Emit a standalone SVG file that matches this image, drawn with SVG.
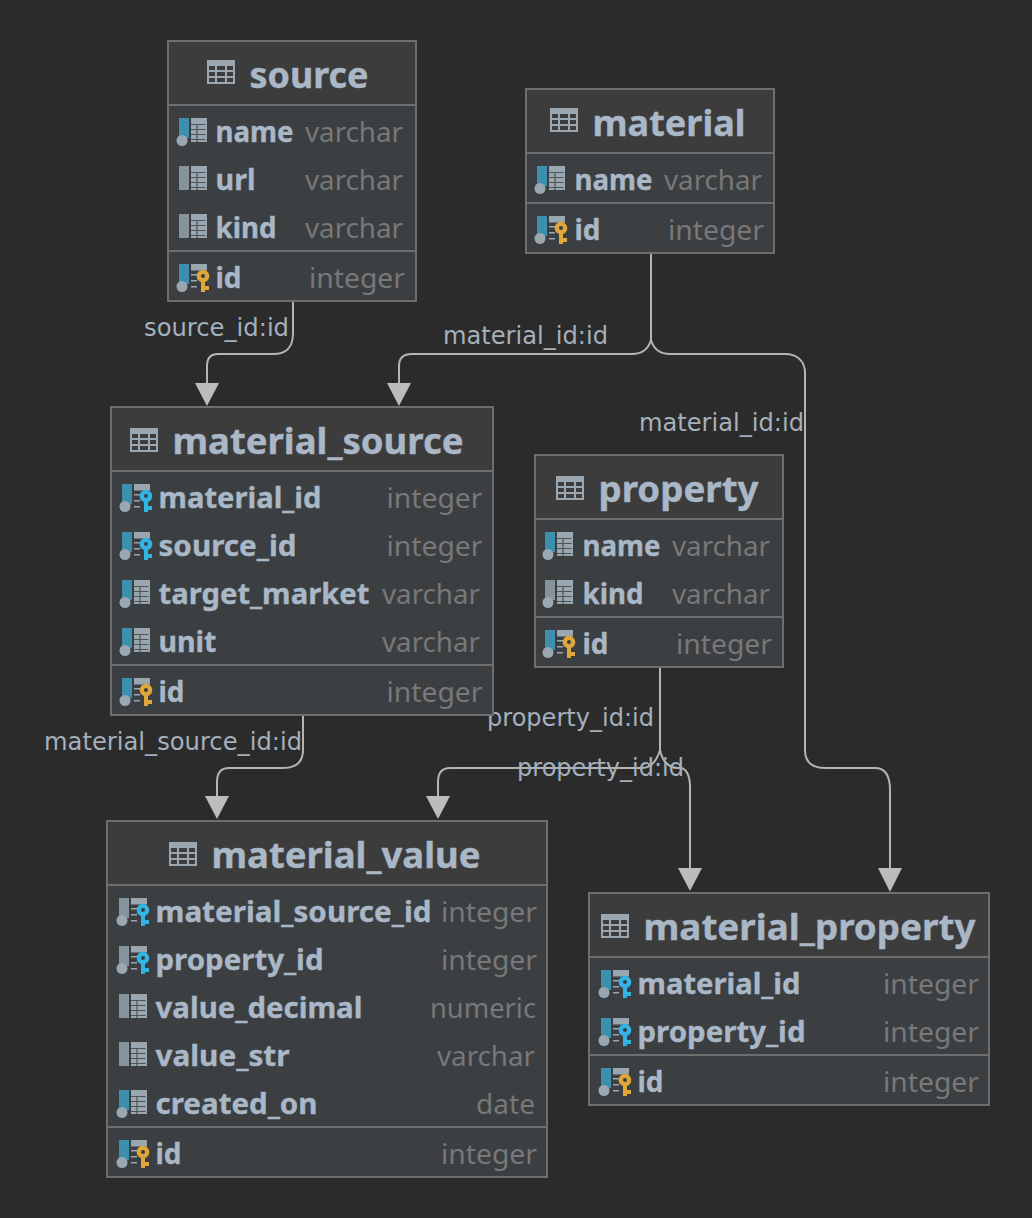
<svg xmlns="http://www.w3.org/2000/svg" width="1032" height="1218" viewBox="0 0 1032 1218">
<style>
.box{fill:#3b3f42;stroke:#6e6e6e;stroke-width:2}
.head{fill:#3c3c3c}
.div{stroke:#6e6e6e;stroke-width:2}
.t{font-family:"Noto Sans","DejaVu Sans",sans-serif;font-weight:700;font-size:36px;fill:#a9b7c6;stroke:#a9b7c6;stroke-width:.4;transform:translate(0,1px)}
.c{font-family:"Noto Sans","DejaVu Sans",sans-serif;font-weight:700;font-size:28px;fill:#a9b7c6;stroke:#a9b7c6;stroke-width:.35;transform:translate(0,.5px)}
.y{font-family:"Noto Sans","DejaVu Sans",sans-serif;font-size:28px;fill:#787878}
.l{font-family:"DejaVu Sans",sans-serif;font-size:24px;fill:#a4b0bc}
.e{fill:none;stroke:#b4b4b4;stroke-width:2}
.a{fill:#bcbcbc}
</style>
<defs>
<g id="ht"><rect width="28" height="24" fill="#9aa7b0"/><path fill="#3c3c3c" d="M2 6h6v4H2zM10 6h8v4h-8zM20 6h6v4h-6zM2 12h6v4H2zM10 12h8v4h-8zM20 12h6v4h-6zM2 18h6v4H2zM10 18h8v4h-8zM20 18h6v4h-6z"/></g>
<g id="tb"><rect x="13" width="16" height="24" fill="#9aa7b0"/><path stroke="#4d5458" stroke-width="1.2" d="M13 6.5H27.5M19 6.5V24M13 11.5H27.5M13 16.5H27.5M13 21.5H27.5" fill="none"/></g>
<g id="tk"><path fill="#9aa7b0" d="M13 0h16v6.5H13zM13 10h6v1.6h-6zM13 16h6v1.6h-6zM13 22h6v1.6h-6z"/></g>
<rect id="bb" x="1" width="10" height="20" fill="#3d8fae"/>
<rect id="bg" x="1" width="10" height="20" fill="#87939a"/>
<rect id="bp" x="1" width="10" height="24" fill="#87939a"/>
<circle id="dot" cx="4" cy="22.5" r="5.5" fill="#9aa7b0"/>
<path id="ko" fill="#dfa63a" fill-rule="evenodd" d="M18.7 12a6.3 6.3 0 1 1 8.3 6V22h4v4h-4v2h-4V18a6.3 6.3 0 0 1-4.3-6zM23 12a2 2 0 1 0 4 0a2 2 0 1 0-4 0z"/>
<path id="kc" fill="#34b4e2" fill-rule="evenodd" d="M18.7 12a6.3 6.3 0 1 1 8.3 6V22h4v4h-4v2h-4V18a6.3 6.3 0 0 1-4.3-6zM23 12a2 2 0 1 0 4 0a2 2 0 1 0-4 0z"/>
<g id="col-index"><use href="#bb"/><use href="#dot"/><use href="#tb"/></g>
<g id="col-plain"><use href="#bp"/><use href="#tb"/></g>
<g id="col-nn"><use href="#bg"/><use href="#dot"/><use href="#tb"/></g>
<g id="col-pk"><use href="#bb"/><use href="#dot"/><use href="#tk"/><use href="#ko"/></g>
<g id="col-fk"><use href="#bb"/><use href="#dot"/><use href="#tk"/><use href="#kc"/></g>
<g id="col-fkg"><use href="#bg"/><use href="#dot"/><use href="#tk"/><use href="#kc"/></g>
</defs>
<rect width="1032" height="1218" fill="#2b2b2b"/>
<g id="connectors">
<path class="e" d="M293 301V333C293 346 288 354 273 354H218C211 354 207 358 207 366V384"/>
<path class="a" d="M195 383H219L207 406Z"/>
<path class="e" d="M651 253V340C648 350 642 354 632 354H412C404 354 399 358 399 366V384"/>
<path class="a" d="M387 383H411L399 406Z"/>
<path class="e" d="M651 340C654 350 660 354 670 354H785C798 354 805 362 805 373V750C805 762 812 768 825 768H875C885 768 890 776 890 790V870"/>
<path class="a" d="M878 868H902L890 892Z"/>
<path class="e" d="M660 667V750C657 760 652 768 642 768H450C442 768 438 773 438 782V798"/>
<path class="a" d="M426 796H450L438 819Z"/>
<path class="e" d="M660 750C662 760 668 768 678 768H680C686 768 690 775 690 787V870"/>
<path class="a" d="M678 868H702L690 891Z"/>
<path class="e" d="M303 715V750C303 762 297 768 283 768H229C221 768 217 773 217 782V798"/>
<path class="a" d="M205 796H229L217 819Z"/>
</g>
<g id="labels">
<text class="l" x="144" y="336" textLength="145" lengthAdjust="spacingAndGlyphs">source_id:id</text>
<text class="l" x="443" y="344" textLength="165" lengthAdjust="spacingAndGlyphs">material_id:id</text>
<text class="l" x="639" y="431" textLength="165" lengthAdjust="spacingAndGlyphs">material_id:id</text>
<text class="l" x="487" y="726" textLength="167" lengthAdjust="spacingAndGlyphs">property_id:id</text>
<text class="l" x="517" y="776" textLength="167" lengthAdjust="spacingAndGlyphs">property_id:id</text>
<text class="l" x="44" y="750" textLength="258" lengthAdjust="spacingAndGlyphs">material_source_id:id</text>
</g>
<g id="node-source">
<rect class="box" x="168" y="41" width="248" height="260"/><rect class="head" x="169" y="42" width="246" height="62"/>
<path class="div" d="M169 105H415M169 251H415"/>
<use href="#ht" x="207" y="60"/>
<text class="t" x="249.5" y="87" textLength="119" lengthAdjust="spacingAndGlyphs">source</text>
<use href="#col-index" x="178" y="118"/><text class="c" x="215.5" y="141" textLength="78" lengthAdjust="spacingAndGlyphs">name</text><text class="y" x="305" y="141.5" textLength="98" lengthAdjust="spacingAndGlyphs">varchar</text>
<use href="#col-plain" x="178" y="166"/><text class="c" x="215.5" y="189" textLength="40" lengthAdjust="spacingAndGlyphs">url</text><text class="y" x="305" y="189.5" textLength="98" lengthAdjust="spacingAndGlyphs">varchar</text>
<use href="#col-plain" x="178" y="214"/><text class="c" x="215.5" y="237" textLength="61" lengthAdjust="spacingAndGlyphs">kind</text><text class="y" x="305" y="237.5" textLength="98" lengthAdjust="spacingAndGlyphs">varchar</text>
<use href="#col-pk" x="178" y="264"/><text class="c" x="215.5" y="287" textLength="26" lengthAdjust="spacingAndGlyphs">id</text><text class="y" x="309" y="287.5" textLength="96" lengthAdjust="spacingAndGlyphs">integer</text>
</g>
<g id="node-material">
<rect class="box" x="526" y="89" width="248" height="164"/><rect class="head" x="527" y="90" width="246" height="62"/>
<path class="div" d="M527 153H773M527 203H773"/>
<use href="#ht" x="550" y="108"/>
<text class="t" x="592.5" y="135" textLength="153" lengthAdjust="spacingAndGlyphs">material</text>
<use href="#col-index" x="536" y="166"/><text class="c" x="574.5" y="189" textLength="78" lengthAdjust="spacingAndGlyphs">name</text><text class="y" x="664" y="189.5" textLength="98" lengthAdjust="spacingAndGlyphs">varchar</text>
<use href="#col-pk" x="536" y="216"/><text class="c" x="574.5" y="239" textLength="26" lengthAdjust="spacingAndGlyphs">id</text><text class="y" x="668" y="239.5" textLength="96" lengthAdjust="spacingAndGlyphs">integer</text>
</g>
<g id="node-material_source">
<rect class="box" x="111" y="407" width="382" height="308"/><rect class="head" x="112" y="408" width="380" height="62"/>
<path class="div" d="M112 471H492M112 665H492"/>
<use href="#ht" x="130" y="428"/>
<text class="t" x="172.5" y="453" textLength="291" lengthAdjust="spacingAndGlyphs">material_source</text>
<use href="#col-fk" x="121" y="484"/><text class="c" x="158.5" y="507" textLength="163" lengthAdjust="spacingAndGlyphs">material_id</text><text class="y" x="386.5" y="507.5" textLength="96" lengthAdjust="spacingAndGlyphs">integer</text>
<use href="#col-fk" x="121" y="532"/><text class="c" x="158.5" y="555" textLength="138" lengthAdjust="spacingAndGlyphs">source_id</text><text class="y" x="386.5" y="555.5" textLength="96" lengthAdjust="spacingAndGlyphs">integer</text>
<use href="#col-index" x="121" y="580"/><text class="c" x="158.5" y="603" textLength="211" lengthAdjust="spacingAndGlyphs">target_market</text><text class="y" x="382" y="603.5" textLength="98" lengthAdjust="spacingAndGlyphs">varchar</text>
<use href="#col-index" x="121" y="628"/><text class="c" x="158.5" y="651" textLength="58" lengthAdjust="spacingAndGlyphs">unit</text><text class="y" x="382" y="651.5" textLength="98" lengthAdjust="spacingAndGlyphs">varchar</text>
<use href="#col-pk" x="121" y="678"/><text class="c" x="158.5" y="701" textLength="26" lengthAdjust="spacingAndGlyphs">id</text><text class="y" x="386.5" y="701.5" textLength="96" lengthAdjust="spacingAndGlyphs">integer</text>
</g>
<g id="node-property">
<rect class="box" x="535" y="455" width="248" height="212"/><rect class="head" x="536" y="456" width="246" height="62"/>
<path class="div" d="M536 519H782M536 617H782"/>
<use href="#ht" x="556" y="476"/>
<text class="t" x="598.5" y="501" textLength="160" lengthAdjust="spacingAndGlyphs">property</text>
<use href="#col-index" x="544" y="532"/><text class="c" x="582.5" y="555" textLength="78" lengthAdjust="spacingAndGlyphs">name</text><text class="y" x="672" y="555.5" textLength="98" lengthAdjust="spacingAndGlyphs">varchar</text>
<use href="#col-nn" x="544" y="580"/><text class="c" x="582.5" y="603" textLength="61" lengthAdjust="spacingAndGlyphs">kind</text><text class="y" x="672" y="603.5" textLength="98" lengthAdjust="spacingAndGlyphs">varchar</text>
<use href="#col-pk" x="544" y="630"/><text class="c" x="582.5" y="653" textLength="26" lengthAdjust="spacingAndGlyphs">id</text><text class="y" x="676" y="653.5" textLength="96" lengthAdjust="spacingAndGlyphs">integer</text>
</g>
<g id="node-material_value">
<rect class="box" x="107" y="821" width="440" height="356"/><rect class="head" x="108" y="822" width="438" height="62"/>
<path class="div" d="M108 885H546M108 1127H546"/>
<use href="#ht" x="169" y="842"/>
<text class="t" x="211.5" y="867" textLength="269" lengthAdjust="spacingAndGlyphs">material_value</text>
<use href="#col-fkg" x="118" y="898"/><text class="c" x="155.5" y="921" textLength="276" lengthAdjust="spacingAndGlyphs">material_source_id</text><text class="y" x="441" y="921.5" textLength="96" lengthAdjust="spacingAndGlyphs">integer</text>
<use href="#col-fkg" x="118" y="946"/><text class="c" x="155.5" y="969" textLength="168" lengthAdjust="spacingAndGlyphs">property_id</text><text class="y" x="441" y="969.5" textLength="96" lengthAdjust="spacingAndGlyphs">integer</text>
<use href="#col-plain" x="118" y="994"/><text class="c" x="155.5" y="1017" textLength="207" lengthAdjust="spacingAndGlyphs">value_decimal</text><text class="y" x="430" y="1017.5" textLength="106" lengthAdjust="spacingAndGlyphs">numeric</text>
<use href="#col-plain" x="118" y="1042"/><text class="c" x="155.5" y="1065" textLength="134" lengthAdjust="spacingAndGlyphs">value_str</text><text class="y" x="437" y="1065.5" textLength="98" lengthAdjust="spacingAndGlyphs">varchar</text>
<use href="#col-index" x="118" y="1090"/><text class="c" x="155.5" y="1113" textLength="162" lengthAdjust="spacingAndGlyphs">created_on</text><text class="y" x="476" y="1113.5" textLength="59" lengthAdjust="spacingAndGlyphs">date</text>
<use href="#col-pk" x="118" y="1140"/><text class="c" x="155.5" y="1163" textLength="26" lengthAdjust="spacingAndGlyphs">id</text><text class="y" x="441" y="1163.5" textLength="96" lengthAdjust="spacingAndGlyphs">integer</text>
</g>
<g id="node-material_property">
<rect class="box" x="589" y="893" width="400" height="212"/><rect class="head" x="590" y="894" width="398" height="62"/>
<path class="div" d="M590 957H988M590 1055H988"/>
<use href="#ht" x="601" y="914"/>
<text class="t" x="643.5" y="939" textLength="332" lengthAdjust="spacingAndGlyphs">material_property</text>
<use href="#col-fk" x="600" y="970"/><text class="c" x="637.5" y="993" textLength="163" lengthAdjust="spacingAndGlyphs">material_id</text><text class="y" x="883" y="993.5" textLength="96" lengthAdjust="spacingAndGlyphs">integer</text>
<use href="#col-fk" x="600" y="1018"/><text class="c" x="637.5" y="1041" textLength="168" lengthAdjust="spacingAndGlyphs">property_id</text><text class="y" x="883" y="1041.5" textLength="96" lengthAdjust="spacingAndGlyphs">integer</text>
<use href="#col-pk" x="600" y="1068"/><text class="c" x="637.5" y="1091" textLength="26" lengthAdjust="spacingAndGlyphs">id</text><text class="y" x="883" y="1091.5" textLength="96" lengthAdjust="spacingAndGlyphs">integer</text>
</g>
</svg>
